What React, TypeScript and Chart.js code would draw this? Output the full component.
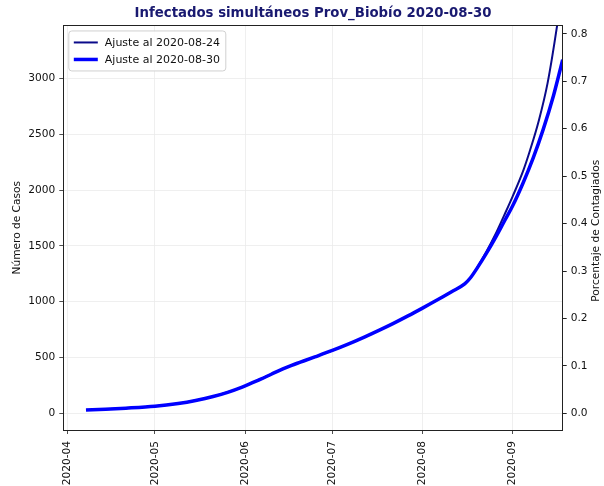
import React, { useEffect, useRef } from "react";
import { Chart, registerables } from "chart.js";

Chart.register(...registerables);

// x values are days since 2020-04-01
const MONTH_LABELS = ["2020-04", "2020-05", "2020-06", "2020-07", "2020-08", "2020-09"];
const MONTH_DAYS = [0, 30, 61, 91, 122, 153];
const X_MIN = -1.5;
const X_MAX = 170.2;

const CASES_TICKS = [0, 500, 1000, 1500, 2000, 2500, 3000];
const CASES_MIN = -150;
const CASES_MAX = 3477;
const PCT_TICKS = [0, 0.1, 0.2, 0.3, 0.4, 0.5, 0.6, 0.7, 0.8];
const PCT_MIN = -0.035;
const PCT_MAX = 0.8175;

// "Ajuste al 2020-08-30" (thick blue)
const DAYS_0830 = [6.3, 13, 20, 30, 38, 44, 50, 55, 60, 65, 70, 74, 77, 80, 85, 91, 96, 102, 107, 112, 117, 122, 127, 132, 136.5, 138.5, 141, 144, 147, 150, 153, 156.5, 160, 163.5, 167, 170.2];
const CASES_0830 = [29, 37, 46, 63, 88, 115, 150, 188, 235, 290, 350, 398, 430, 458, 505, 563, 615, 683, 743, 806, 873, 943, 1015, 1090, 1160, 1215, 1310, 1435, 1570, 1715, 1860, 2060, 2285, 2545, 2845, 3170];

// "Ajuste al 2020-08-24" (thin dark blue)
const DAYS_0824 = [6.3, 13, 20, 30, 38, 44, 50, 55, 60, 65, 70, 74, 77, 80, 85, 91, 96, 102, 107, 112, 117, 122, 127, 132, 136.5, 138.5, 141, 144, 147, 150, 153, 156.7, 159, 162, 165, 168.3, 170];
const CASES_0824 = [29, 37, 46, 63, 88, 115, 150, 188, 235, 290, 350, 398, 430, 458, 505, 563, 615, 683, 743, 806, 873, 943, 1015, 1090, 1160, 1215, 1315, 1450, 1600, 1770, 1945, 2180, 2360, 2625, 2960, 3480, 3800];

const LABEL_0824 = "Ajuste al 2020-08-24";
const LABEL_0830 = "Ajuste al 2020-08-30";
const TITLE = "Infectados simultáneos Prov_Biobío 2020-08-30";
const Y_LEFT_TITLE = "Número de Casos";
const Y_RIGHT_TITLE = "Porcentaje de Contagiados";

const FONT = "DejaVu Sans";
const TEXT = "#111";

const framePlugin = {
  id: "frameLegend",
  afterDatasetsDraw(chart: any) {
    const { ctx, chartArea } = chart;
    const { left, top, right, bottom } = chartArea;
    ctx.save();
    ctx.strokeStyle = "#222";
    ctx.lineWidth = 1;
    ctx.strokeRect(Math.round(left) + 0.5, Math.round(top) + 0.5, Math.round(right - left), Math.round(bottom - top));
    ctx.restore();
  },
  afterDraw(chart: any) {
    const { ctx, chartArea } = chart;
    const { left, top, bottom } = chartArea;
    ctx.save();
    // legend box
    const bx = left + 5.5;
    const by = top + 5.5;
    const bw = 157;
    const bh = 40;
    const r = 3;
    ctx.beginPath();
    ctx.moveTo(bx + r, by);
    ctx.lineTo(bx + bw - r, by);
    ctx.quadraticCurveTo(bx + bw, by, bx + bw, by + r);
    ctx.lineTo(bx + bw, by + bh - r);
    ctx.quadraticCurveTo(bx + bw, by + bh, bx + bw - r, by + bh);
    ctx.lineTo(bx + r, by + bh);
    ctx.quadraticCurveTo(bx, by + bh, bx, by + bh - r);
    ctx.lineTo(bx, by + r);
    ctx.quadraticCurveTo(bx, by, bx + r, by);
    ctx.closePath();
    ctx.fillStyle = "rgba(255,255,255,0.85)";
    ctx.fill();
    ctx.strokeStyle = "#d0d0d0";
    ctx.lineWidth = 1;
    ctx.stroke();

    const ds = chart.data.datasets;
    const items = [ds[1], ds[0]];
    items.forEach((d: any, i: number) => {
      const y = by + 11.5 + i * 17;
      ctx.beginPath();
      ctx.strokeStyle = d.borderColor;
      ctx.lineWidth = d.borderWidth;
      ctx.moveTo(bx + 5, y);
      ctx.lineTo(bx + 29, y);
      ctx.stroke();
      ctx.fillStyle = TEXT;
      ctx.font = `11px '${FONT}'`;
      ctx.textBaseline = "middle";
      ctx.textAlign = "left";
      ctx.fillText(d.label, bx + 36, y + 0.5);
    });

    // right axis title (reads bottom to top)
    ctx.translate(596, (top + bottom) / 2 + 3);
    ctx.rotate(-Math.PI / 2);
    ctx.fillStyle = TEXT;
    ctx.font = `10.6px '${FONT}'`;
    ctx.textAlign = "center";
    ctx.textBaseline = "middle";
    ctx.fillText(Y_RIGHT_TITLE, 0, 0);
    ctx.restore();
  },
};

export default function App() {
  const ref = useRef<HTMLCanvasElement | null>(null);

  useEffect(() => {
    if (!ref.current) return;
    Chart.defaults.font.family = FONT;
    const toPts = (xs: number[], ys: number[]) => xs.map((x, i) => ({ x, y: ys[i] }));
    const chart = new Chart(ref.current, {
      type: "line",
      data: {
        datasets: [
          {
            label: LABEL_0830,
            data: toPts(DAYS_0830, CASES_0830),
            borderColor: "#0000ff",
            borderWidth: 3.5,
            pointRadius: 0,
            cubicInterpolationMode: "monotone",
            yAxisID: "y",
          },
          {
            label: LABEL_0824,
            data: toPts(DAYS_0824, CASES_0824),
            borderColor: "#0a0a8a",
            borderWidth: 2,
            pointRadius: 0,
            cubicInterpolationMode: "monotone",
            yAxisID: "y",
          },
        ],
      },
      plugins: [framePlugin],
      options: {
        animation: false,
        responsive: false,
        devicePixelRatio: 1,
        layout: { padding: 0 },
        plugins: {
          legend: { display: false },
          tooltip: { enabled: false },
          title: {
            display: true,
            text: TITLE,
            color: "#191970",
            fullSize: false,
            font: { family: FONT, size: 13.3, weight: "bold" },
            padding: { top: 6, bottom: 3.5 },
          },
        },
        scales: {
          x: {
            type: "linear",
            min: X_MIN,
            max: X_MAX,
            afterBuildTicks: (scale: any) => {
              scale.ticks = MONTH_DAYS.map((v) => ({ value: v }));
            },
            afterFit: (scale: any) => {
              scale.height = 56;
            },
            ticks: {
              autoSkip: false,
              minRotation: 90,
              maxRotation: 90,
              padding: 7,
              color: TEXT,
              font: { size: 10.6 },
              callback: (v: any) => {
                const i = MONTH_DAYS.indexOf(Number(v));
                return i >= 0 ? MONTH_LABELS[i] : "";
              },
            },
            grid: { color: "#ebebeb", lineWidth: 0.8, tickColor: "#222", tickLength: 4 },
            border: { display: false },
          },
          y: {
            type: "linear",
            position: "left",
            min: CASES_MIN,
            max: CASES_MAX,
            afterBuildTicks: (scale: any) => {
              scale.ticks = CASES_TICKS.map((v) => ({ value: v }));
            },
            afterFit: (scale: any) => {
              scale.width = 63.3;
            },
            ticks: { padding: 4, color: TEXT, font: { size: 10.6 }, callback: (v: any) => String(v) },
            grid: { color: "#ebebeb", lineWidth: 0.8, tickColor: "#222", tickLength: 4 },
            border: { display: false },
            title: {
              display: true,
              text: Y_LEFT_TITLE,
              color: TEXT,
              font: { size: 10.6 },
              padding: { top: 10.7, bottom: 0 },
            },
          },
          y2: {
            type: "linear",
            position: "right",
            min: PCT_MIN,
            max: PCT_MAX,
            afterBuildTicks: (scale: any) => {
              scale.ticks = PCT_TICKS.map((v) => ({ value: v }));
            },
            afterFit: (scale: any) => {
              scale.width = 41.3;
            },
            ticks: {
              padding: 4,
              color: TEXT,
              font: { size: 10.6 },
              callback: (v: any) => Number(v).toFixed(1),
            },
            grid: { drawOnChartArea: false, tickColor: "#222", tickLength: 4 },
            border: { display: false },
          },
        },
      },
    } as any);
    return () => chart.destroy();
  }, []);

  return (
    <div style={{ position: "fixed", left: 0, top: 0, width: 604, height: 486, background: "#fff" }}>
      <canvas ref={ref} width={604} height={486} style={{ display: "block" }} />
    </div>
  );
}
